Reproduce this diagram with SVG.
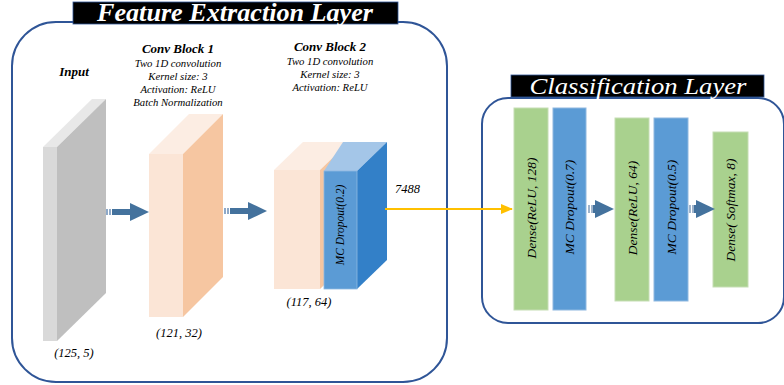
<svg xmlns="http://www.w3.org/2000/svg" width="784" height="385" viewBox="0 0 784 385">
<defs>
<style>
text{font-family:'Liberation Serif','DejaVu Serif',serif}
.t{font-style:italic;fill:#000}
.hd{font-weight:bold;font-size:13px}
.sm{font-size:10.7px}
.dim{font-size:12.5px}
.rot{font-size:13.5px}
.title{font-style:italic;fill:#fff}
.frame{fill:none;stroke:#2f5597;stroke-width:2}
.grn{fill:#a9d18e;stroke:#c5ddb4;stroke-width:1}
.blu{fill:#5b9bd5;stroke:#8fb8e0;stroke-width:1}
</style>
<marker id="oh" markerWidth="12" markerHeight="10" refX="11" refY="5" orient="auto" markerUnits="userSpaceOnUse">
<path d="M0,0 L12,5 L0,10 Z" fill="#ffc000"/>
</marker>
<symbol id="bigarrow" overflow="visible">
<rect x="0" y="-3" width="2" height="6" fill="#8ea9c8"/>
<rect x="3" y="-3" width="2" height="6" fill="#8ea9c8"/>
<rect x="6" y="-3" width="19" height="6" fill="#44729d"/>
<path d="M24,-9 L43,0 L24,9 Z" fill="#44729d"/>
</symbol>
<symbol id="smallarrow" overflow="visible">
<rect x="0" y="-4" width="2" height="8" fill="#9fb4cc"/>
<rect x="3" y="-4" width="2" height="8" fill="#9fb4cc"/>
<rect x="5" y="-4" width="3" height="8" fill="#44729d"/>
<path d="M7,-9 L26,0 L7,9 Z" fill="#44729d"/>
</symbol>
</defs>
<rect width="784" height="385" fill="#fff"/>

<g id="feature-extraction">
<rect class="frame" x="12" y="22" width="435" height="360" rx="44" ry="44"/>
<rect x="73" y="2" width="325" height="22" fill="#000" stroke="#2f5597" stroke-width="0.8"/>
<text class="title" x="235" y="21" text-anchor="middle" font-size="25" font-weight="bold" textLength="276" lengthAdjust="spacingAndGlyphs">Feature Extraction Layer</text>
</g>

<g id="classification">
<rect class="frame" x="482" y="98" width="302" height="225" rx="26" ry="26"/>
<rect x="511" y="75" width="253" height="22" fill="#000" stroke="#2f5597" stroke-width="0.8"/>
<text class="title" x="638" y="94" text-anchor="middle" font-size="24" textLength="217" lengthAdjust="spacingAndGlyphs">Classification Layer</text>
</g>

<g id="input">
<text class="t hd" x="74" y="76" text-anchor="middle">Input</text>
<path d="M43,147 L92,99 L106,99 L57,147 Z" fill="#e8e8e8"/>
<path d="M57,147 L106,99 L106,293 L57,341 Z" fill="#bfbfbf"/>
<rect x="43" y="147" width="14" height="194" fill="#d9d9d9"/>
<text class="t dim" x="74" y="357" text-anchor="middle">(125, 5)</text>
</g>

<g id="conv-block-1">
<text class="t hd" x="178" y="53" text-anchor="middle">Conv Block 1</text>
<text class="t sm" x="178" y="67" text-anchor="middle">Two 1D convolution</text>
<text class="t sm" x="178" y="80" text-anchor="middle">Kernel size: 3</text>
<text class="t sm" x="178" y="93" text-anchor="middle">Activation: ReLU</text>
<text class="t sm" x="178" y="106" text-anchor="middle">Batch Normalization</text>
<path d="M149,154 L189,114 L223,114 L183,154 Z" fill="#fcede3"/>
<path d="M183,154 L223,114 L223,277 L183,317 Z" fill="#f6c6a1"/>
<rect x="149" y="154" width="34" height="163" fill="#fbe5d6"/>
<text class="t dim" x="179" y="337" text-anchor="middle">(121, 32)</text>
</g>

<g id="conv-block-2">
<text class="t hd" x="330" y="51" text-anchor="middle">Conv Block 2</text>
<text class="t sm" x="330" y="65" text-anchor="middle">Two 1D convolution</text>
<text class="t sm" x="330" y="78" text-anchor="middle">Kernel size: 3</text>
<text class="t sm" x="330" y="91" text-anchor="middle">Activation: ReLU</text>
<path d="M274,170 L303,142 L349,142 L320,170 Z" fill="#fcede3"/>
<path d="M320,170 L349,142 L349,261 L320,289 Z" fill="#f6c6a1"/>
<rect x="274" y="170" width="46" height="119" fill="#fbe5d6"/>
<text class="t dim" x="309" y="306" text-anchor="middle">(117, 64)</text>
</g>

<g id="mc-dropout-0.2">
<path d="M324,171 L343,142 L387,142 L357,171 Z" fill="#a4c6e8"/>
<path d="M357,171 L387,142 L387,260 L357,289 Z" fill="#3380c8"/>
<rect x="324" y="171" width="33" height="118" fill="#5b9bd5" stroke="#8fb8e0" stroke-width="0.8"/>
<text class="t" font-size="11.5" transform="translate(344,225) rotate(-90)" text-anchor="middle">MC Dropout(0.2)</text>
</g>

<g id="dense-128">
<rect class="grn" x="514" y="108" width="34" height="202"/>
<text class="t rot" transform="translate(536,208) rotate(-90)" text-anchor="middle">Dense(ReLU, 128)</text>
</g>
<g id="mc-dropout-0.7">
<rect class="blu" x="553" y="108" width="33" height="202"/>
<text class="t rot" transform="translate(574,207) rotate(-90)" text-anchor="middle">MC Dropout(0.7)</text>
</g>
<g id="dense-64">
<rect class="grn" x="615" y="118" width="34" height="183"/>
<text class="t rot" transform="translate(637,208) rotate(-90)" text-anchor="middle">Dense(ReLU, 64)</text>
</g>
<g id="mc-dropout-0.5">
<rect class="blu" x="654" y="118" width="34" height="183"/>
<text class="t rot" transform="translate(676,207) rotate(-90)" text-anchor="middle">MC Dropout(0.5)</text>
</g>
<g id="dense-softmax-8">
<rect class="grn" x="713" y="132" width="35" height="155"/>
<text class="t rot" transform="translate(735,210) rotate(-90)" text-anchor="middle">Dense( Softmax, 8)</text>
</g>

<g id="connectors">
<use href="#bigarrow" x="106" y="212"/>
<use href="#bigarrow" x="224" y="211"/>
<use href="#smallarrow" x="588" y="209"/>
<use href="#smallarrow" x="689" y="209"/>
<line x1="385" y1="209" x2="512" y2="209" stroke="#ffc000" stroke-width="2.2" marker-end="url(#oh)"/>
<text class="t" font-size="12.5" x="395" y="193">7488</text>
</g>
</svg>
